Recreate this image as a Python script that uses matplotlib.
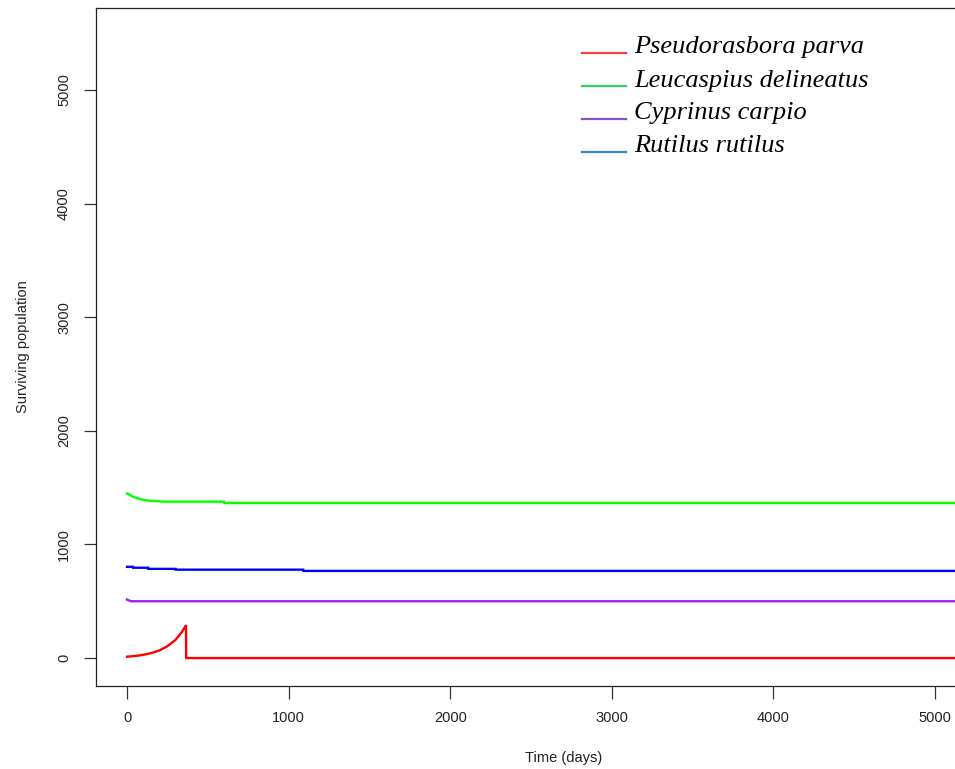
import matplotlib
matplotlib.use("Agg")
import matplotlib.pyplot as plt
from matplotlib.lines import Line2D

# time axis end (days) for the long-run plateau
t_end = 5600

# Pseudorasbora parva: growth in the first year, then collapse to zero
parva_t = [0, 50, 100, 150, 200, 250, 300, 340, 365, 366, t_end]
parva_n = [12, 18, 28, 44, 67, 104, 160, 230, 290, 0, 0]

# Leucaspius delineatus
leuc_t = [0, 25, 50, 100, 150, 225, 600, 601, t_end]
leuc_n = [1450, 1430, 1412, 1393, 1384, 1377, 1377, 1365, 1365]

# Cyprinus carpio
carp_t = [0, 15, 30, t_end]
carp_n = [515, 505, 500, 500]

# Rutilus rutilus
rut_t = [0, 37, 38, 130, 131, 300, 301, 1090, 1091, t_end]
rut_n = [803, 803, 795, 795, 785, 785, 778, 778, 767, 767]

species = ["Pseudorasbora parva", "Leucaspius delineatus",
           "Cyprinus carpio", "Rutilus rutilus"]
line_colors = ["#FF0000", "#00FF00", "#A020F0", "#0000FF"]
legend_colors = ["#FF3B3B", "#33CC66", "#8E4FC4", "#3A86CC"]

x_ticks = [0, 1000, 2000, 3000, 4000, 5000]
y_ticks = [0, 1000, 2000, 3000, 4000, 5000]

plt.rcParams["font.family"] = ["Liberation Sans", "DejaVu Sans"]

W, H = 955, 769
fig = plt.figure(figsize=(W / 100, H / 100), dpi=100)
ax = fig.add_axes([96 / W, 1 - 686 / H, 936 / W, 678 / H])

series = [(parva_t, parva_n), (leuc_t, leuc_n), (carp_t, carp_n), (rut_t, rut_n)]
for (t, n), c in zip(series, line_colors):
    ax.plot(t, n, color=c, lw=1.7, solid_joinstyle="miter")

ax.set_xlim(-192, 5600)
ax.set_ylim(-246, 5722)
ax.set_xticks(x_ticks)
ax.set_yticks(y_ticks)
ax.set_xticklabels([str(v) for v in x_ticks], fontsize=10.5, color="#222222")
ax.set_yticklabels([str(v) for v in y_ticks], fontsize=10.5, color="#222222",
                   rotation=90, va="center")
ax.tick_params(axis="both", direction="out", length=9, width=0.9, color="#333333")
ax.tick_params(axis="x", pad=9)
ax.tick_params(axis="y", pad=9)
for s in ax.spines.values():
    s.set_linewidth(0.9)
    s.set_color("#222222")

ax.set_xlabel("Time (days)", fontsize=10.5, labelpad=18.5, color="#222222")
ax.set_ylabel("Surviving population", fontsize=10.5, labelpad=19.5, color="#222222")

# legend drawn by hand: line sits on the text baseline, no frame
for i, (name, c) in enumerate(zip(species, legend_colors)):
    base = 52.5 + 33 * i
    fig.add_artist(Line2D([582 / W, 626 / W], [1 - base / H] * 2,
                          color=c, lw=1.6))
    fig.text(634 / W, 1 - (base + 1) / H, name, ha="left", va="baseline",
             family="Liberation Serif", style="italic", fontsize=19)

fig.savefig("out.png", dpi=100)
